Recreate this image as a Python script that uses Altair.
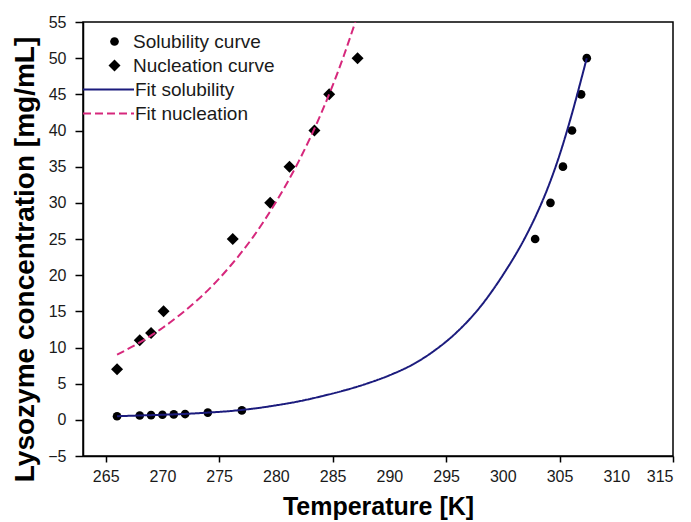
import altair as alt
import pandas as pd

# ---- data ----
sol_T = [266, 268, 269, 270, 271, 272, 274, 277, 302.85, 304.2, 305.3, 306.1, 306.9, 307.4]
sol_C = [0.5, 0.6, 0.65, 0.7, 0.75, 0.8, 1.0, 1.3, 25, 30, 35, 40, 45, 50]

nuc_T = [266, 268, 269, 270.1, 276.2, 279.5, 281.2, 283.4, 284.7, 287.2]
nuc_C = [7, 11, 12, 15, 25, 30, 35, 40, 45, 50]

fit_sol_T = [266, 268, 270, 272, 274, 276, 278, 280, 282, 284, 286, 288, 290, 292,
             294, 296, 298, 300, 302, 303, 304, 305, 306, 307, 307.4]
fit_sol_C = [0.5, 0.6, 0.7, 0.82, 1.0, 1.22, 1.55, 2.0, 2.55, 3.25, 4.05, 5.0, 6.15, 7.6,
             9.6, 12.2, 15.6, 20.0, 25.3, 28.5, 32.2, 36.6, 41.8, 47.6, 50.0]

fit_nuc_T = [266, 268, 270, 272, 274, 276, 278, 280, 282, 284, 286, 287]
fit_nuc_C = [9.0, 10.7, 12.7, 15.1, 17.9, 21.3, 25.3, 30.1, 35.7, 42.4, 50.4, 55.0]

x_ticks = [265, 270, 275, 280, 285, 290, 295, 300, 305, 310, 315]
y_ticks = [-5, 0, 5, 10, 15, 20, 25, 30, 35, 40, 45, 50, 55]

point_names = ["Solubility curve", "Nucleation curve"]
fit_names = ["Fit solubility", "Fit nucleation"]

pts = pd.concat([
    pd.DataFrame({"T": sol_T, "C": sol_C, "kind": point_names[0]}),
    pd.DataFrame({"T": nuc_T, "C": nuc_C, "kind": point_names[1]}),
])
fits = pd.concat([
    pd.DataFrame({"T": fit_sol_T, "C": fit_sol_C, "series": fit_names[0]}),
    pd.DataFrame({"T": fit_nuc_T, "C": fit_nuc_C, "series": fit_names[1]}),
])

FONT = "Liberation Sans"
TXT = "#1a1a1a"

x_axis = alt.Axis(
    values=x_ticks, title="Temperature [K]", tickSize=6, labelOverlap=False,
    tickOpacity={"condition": {"test": "datum.value % 10 == 5", "value": 1}, "value": 0},
    labelPadding=6, titlePadding=10,
)
y_axis = alt.Axis(values=y_ticks, title="Lysozyme concentration [mg/mL]", labelOverlap=False,
                  tickSize=8, labelPadding=9, titlePadding=8, titleY=237)
x_scale = alt.Scale(domain=[263, 315], nice=False, zero=False)
y_scale = alt.Scale(domain=[-5, 55], nice=False, zero=False)

x_enc = alt.X("T:Q", scale=x_scale, axis=x_axis)
y_enc = alt.Y("C:Q", scale=y_scale, axis=y_axis)

pt_legend = alt.Legend(orient="none", legendX=22, legendY=10, title=None,
                       labelFontSize=19, labelFont=FONT, labelColor=TXT,
                       padding=0, rowPadding=4, labelOffset=9, clipHeight=19,
                       symbolFillColor="black", symbolStrokeColor="black")

points = alt.Chart(pts).mark_point(filled=True, opacity=1, color="black").encode(
    x=x_enc,
    y=y_enc,
    shape=alt.Shape("kind:N", scale=alt.Scale(domain=point_names, range=["circle", "diamond"]),
                    legend=pt_legend),
    size=alt.Size("kind:N", scale=alt.Scale(domain=point_names, range=[75, 144]),
                  legend=pt_legend),
)

line_legend = alt.Legend(orient="none", legendX=-1, legendY=58, title=None,
                         labelFontSize=19, labelFont=FONT, labelColor=TXT,
                         padding=0, rowPadding=4, labelOffset=0, clipHeight=19,
                         symbolSize=2601, symbolStrokeWidth=2, symbolType="stroke")

lines = alt.Chart(fits).mark_line(strokeWidth=2, clip=True, interpolate="monotone").encode(
    x=x_enc,
    y=y_enc,
    color=alt.Color("series:N", scale=alt.Scale(domain=fit_names, range=["#1b1b7d", "#d6287c"]),
                    legend=line_legend),
    strokeDash=alt.StrokeDash("series:N", scale=alt.Scale(domain=fit_names, range=[[1, 0], [8, 4]]),
                              legend=line_legend),
    detail="series:N",
)

chart = alt.layer(points, lines).properties(
    width=590, height=434,
    autosize=alt.AutoSizeParams(type="none"),
    padding={"left": 75, "top": 14, "right": 10, "bottom": 64},
).configure_view(
    stroke="black", strokeWidth=1.5,
).configure_axis(
    grid=False, domainColor="black", domainWidth=1.5, tickColor="black", tickWidth=1.5,
    labelFont=FONT, labelFontSize=16, labelColor=TXT, labelOverlap=False,
    titleFont=FONT, titleFontSize=25, titleFontWeight="bold", titleColor="black",
).configure_axisY(titleFontSize=28)

chart.save("out.html", embed_options={"renderer": "svg", "actions": False})
